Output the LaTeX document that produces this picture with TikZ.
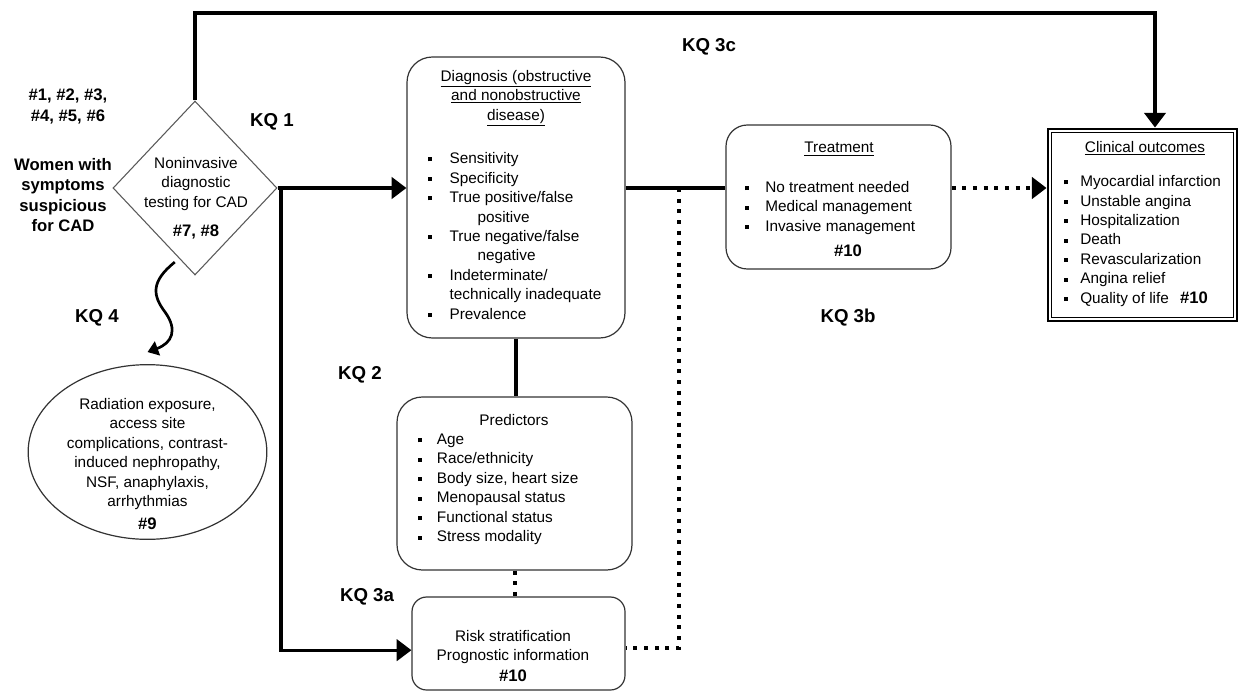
\documentclass[tikz,border=0pt]{standalone}
\usepackage{fontspec}
\setmainfont{Liberation Sans}
\usetikzlibrary{arrows.meta,fit,shapes.geometric}
\newcommand{\bu}[1]{\makebox[#1][l]{\rule[0.28ex]{3pt}{3pt}}}
\begin{document}
\begin{tikzpicture}[x=0.75pt,y=-0.75pt,
  every node/.style={inner sep=0pt, font=\fontsize{11.5}{14.6}\selectfont},
  box/.style={draw=black!80, line width=0.9pt, inner sep=0pt},
  conn/.style={line width=2.3pt, black},
  arr/.style={-{Triangle[length=11pt,width=16pt]}},
  dots/.style={line width=3pt, dash pattern=on 3pt off 5pt},
  kq/.style={font=\fontsize{14}{16}\selectfont\bfseries},
  bnum/.style={font=\fontsize{12.5}{15.4}\selectfont\bfseries},
  lst/.style={anchor=west, align=left},
]
\useasboundingbox (0,0) rectangle (1241,692);

% shapes
\node[draw=black!65, line width=0.8pt, diamond, minimum width=123pt, minimum height=130.5pt] (dia) at (195,188) {};
\node[box, rounded corners=19pt, fit={(407,57) (625,338)}] (diag) {};
\node[box, rounded corners=16pt, fit={(726,125) (951,269)}] (treat) {};
\node[draw, line width=2.2pt, inner sep=0pt, fit={(1048,129) (1237,321)}] (clin) {};
\draw[line width=0.8pt] ([shift={(5,5)}]clin.north west) rectangle ([shift={(-5,-5)}]clin.south east);
\node[box, rounded corners=19pt, fit={(397,397) (632,570)}] (pred) {};
\node[box, rounded corners=11pt, fit={(412,597) (625,690)}] (risk) {};
\node[draw=black!80, line width=0.9pt, ellipse, minimum width=179pt, minimum height=131pt] (harm) at (147.5,452) {};

% texts
\node[bnum, align=center] (ids) at (68,106.5) {\#1, \#2, \#3,\\\#4, \#5, \#6};
\node[bnum, align=center] (women) at (63,195) {Women with\\symptoms\\suspicious\\for CAD};
\node[align=center] (diatxt) at (196,184) {Noninvasive\\diagnostic\\testing for CAD};
\node[bnum] (diaid) at (196,232) {\#7, \#8};

\node[align=center] (diagt) at (516,98) {\underline{Diagnosis (obstructive}\\\underline{and nonobstructive}\\\underline{disease)}};
\node[lst] (diagl) at (428,236) {\bu{16pt}Sensitivity\\\bu{16pt}Specificity\\\bu{16pt}True positive/false\\\hspace*{37pt}positive\\\bu{16pt}True negative/false\\\hspace*{37pt}negative\\\bu{16pt}Indeterminate/\\\hspace*{16pt}technically inadequate\\\bu{16pt}Prevalence};

\node (treatt) at (839,149) {\underline{Treatment}};
\node[lst] (treatl) at (745,208) {\bu{15pt}No treatment needed\\\bu{15pt}Medical management\\\bu{15pt}Invasive management};
\node[bnum] (treatid) at (848,251) {\#10};

\node (clint) at (1145,148) {\underline{Clinical outcomes}};
\node[lst] (clinl) at (1064,241) {\bu{12pt}Myocardial infarction\\\bu{12pt}Unstable angina\\\bu{12pt}Hospitalization\\\bu{12pt}Death\\\bu{12pt}Revascularization\\\bu{12pt}Angina relief\\\bu{12pt}Quality of life};
\node[bnum] (clinid) at (1194,298) {\#10};

\node (predt) at (514,420) {Predictors};
\node[lst] (predl) at (418,489.5) {\bu{14pt}Age\\\bu{14pt}Race/ethnicity\\\bu{14pt}Body size, heart size\\\bu{14pt}Menopausal status\\\bu{14pt}Functional status\\\bu{14pt}Stress modality};

\node[align=center] (riskt) at (513,647) {Risk stratification\\Prognostic information};
\node[bnum] (riskid) at (513,676) {\#10};

\node[align=center] (harmt) at (147.5,454) {Radiation exposure,\\access site\\complications, contrast-\\induced nephropathy,\\NSF, anaphylaxis,\\arrhythmias};
\node[bnum] (harmid) at (147.5,524) {\#9};

% KQ labels
\node[kq] (kq1) at (272,122) {KQ 1};
\node[kq] (kq3c) at (709,47) {KQ 3c};
\node[kq] (kq4) at (97,318) {KQ 4};
\node[kq] (kq2) at (360,375) {KQ 2};
\node[kq] (kq3b) at (848,318) {KQ 3b};
\node[kq] (kq3a) at (367,597) {KQ 3a};

% connectors
\coordinate (tc) at (1155,13);
\coordinate (j1) at (281,188);
\coordinate (d1) at (679,188);
\draw[conn, arr] (dia.north) |- (tc) -- (tc |- clin.north);
\draw[conn, arr] (dia.east) -- (diag.west |- dia.east);
\draw[conn, arr] (j1) |- ([yshift=-5pt]risk.west);
\draw[conn] (diag.east |- j1) -- (treat.west |- j1);
\draw[conn, dots] (d1) |- ([yshift=-3pt]risk.east);
\draw[conn, dots, arr] (treat.east |- j1) -- (clin.west |- j1);
\draw[conn] (diag.south) -- (diag.south |- pred.north);
\draw[conn, dots] (pred.south) -- (pred.south |- risk.north);
\coordinate (w1) at ([yshift=-6pt]dia.253);
\coordinate (w2) at ([yshift=9pt]harm.north);
\draw[line width=2pt, -{Triangle[length=8pt,width=11pt]}] (w1) .. controls (150,282) and (153,296) .. (165,312) .. controls (178,330) and (172,343) .. (w2);
\end{tikzpicture}
\end{document}
